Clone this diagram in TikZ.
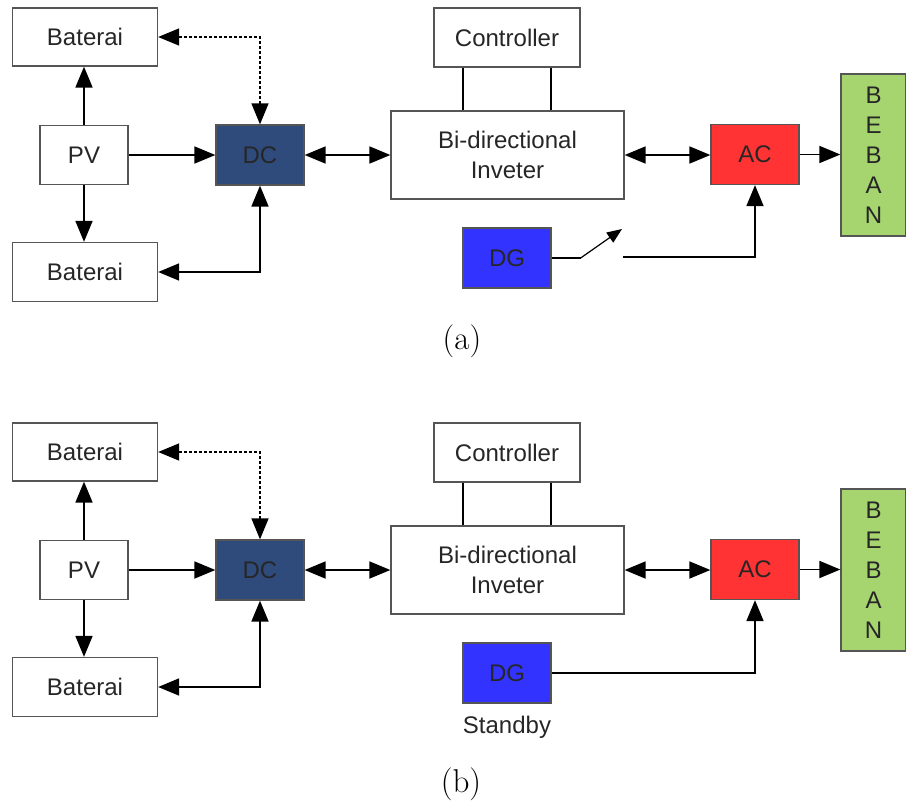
\documentclass[tikz,border=0pt]{standalone}
\usepackage{fontspec}
\usetikzlibrary{arrows.meta, positioning, calc}
\newfontfamily\arialfont{Liberation Sans}
\definecolor{dcblue}{HTML}{2F4B7C}
\definecolor{dgblue}{HTML}{3333FF}
\definecolor{acred}{HTML}{FF3333}
\definecolor{bebangreen}{HTML}{A6D46E}
\definecolor{boxline}{HTML}{555555}

\tikzset{
  blok/.style={draw=boxline, line width=1.3pt, fill=white, inner sep=0pt, align=center,
    text=black!85, font=\arialfont\fontsize{24}{30}\selectfont},
  boxsize/.style 2 args={minimum width=#1, minimum height=#2},
  arr/.style={line width=1.8pt, -{Triangle[length=21pt,width=17pt]}},
  biarr/.style={line width=1.8pt, {Triangle[length=21pt,width=17pt]}-{Triangle[length=21pt,width=17pt]}},
}

\begin{document}
\begin{tikzpicture}[x=1pt, y=-1pt]
  \useasboundingbox (0,0) rectangle (906,809);

  \foreach \p/\dy in {a/0, b/415} {
    \begin{scope}[yshift=-\dy pt]
      % Sisi DC
      \node[blok, boxsize={145pt}{58pt}] (battop\p) at (85,37) {Baterai};
      \node[blok, boxsize={88pt}{59pt}] (pv\p) at (84,155) {PV};
      \node[blok, boxsize={145pt}{59pt}] (batbot\p) at (85,272) {Baterai};
      \node[blok, boxsize={88pt}{60pt}, fill=dcblue] (dc\p) at (260,155) {DC};

      % Inverter dan controller
      \node[blok, boxsize={146pt}{59pt}] (ctrl\p) at (507,37.5) {Controller};
      \node[blok, boxsize={233pt}{88pt}] (inv\p) at (507.5,155) {Bi-directional\\Inveter};

      % Sisi AC
      \node[blok, boxsize={88pt}{60pt}, fill=acred] (ac\p) at (755,154.5) {AC};
      \node[blok, boxsize={65pt}{162pt}, fill=bebangreen] (beban\p) at (873.5,155) {B\\E\\B\\A\\N};
      \node[blok, boxsize={88pt}{60pt}, fill=dgblue] (dg\p) at (507,258) {DG};

      % Penghubung
      \draw[arr] (pv\p.north) -- (battop\p.south -| pv\p.north);
      \draw[arr] (pv\p.south) -- (batbot\p.north -| pv\p.south);
      \draw[arr] (pv\p.east) -- (dc\p.west);
      \draw[line width=1.5pt, dash pattern=on 3pt off 2pt,
        {Triangle[length=21pt,width=17pt]}-{Triangle[length=21pt,width=17pt]}]
        (battop\p.east) -| (dc\p.north);
      \draw[biarr] (batbot\p.east) -| (dc\p.south);
      \draw[biarr] (dc\p.east) -- (inv\p.west);
      \draw[line width=1.8pt] ([xshift=-44pt]ctrl\p.south) -- ([xshift=-44pt]ctrl\p.south |- inv\p.north);
      \draw[line width=1.8pt] ([xshift=44pt]ctrl\p.south) -- ([xshift=44pt]ctrl\p.south |- inv\p.north);
      \draw[biarr] (inv\p.east) -- (inv\p.east -| ac\p.west);
      \draw[arr] (ac\p.east) -- (ac\p.east -| beban\p.west);
    \end{scope}
  }

  % (a): DG lewat saklar
  \coordinate (swa1) at ([xshift=29pt]dga.east);
  \coordinate (swa2) at (622,229);
  \coordinate (swa3) at (623,257);
  \draw[line width=1.2pt] (dga.east) -- (swa1);
  \draw[line width=1.2pt, -{Triangle[length=15pt,width=12pt]}] (swa1) -- (swa2);
  \draw[arr] (swa3) -| (aca.south);
  \node[font=\fontsize{33}{40}\selectfont] (capa) at (462,341) {(a)};

  % (b): DG standby
  \draw[arr] (dgb.east) -| (acb.south);
  \node[below=12pt of dgb, inner sep=0pt, text=black!85,
    font=\arialfont\fontsize{24}{30}\selectfont] (standby) {Standby};
  \node[font=\fontsize{33}{40}\selectfont] (capb) at (461,784) {(b)};
\end{tikzpicture}
\end{document}
